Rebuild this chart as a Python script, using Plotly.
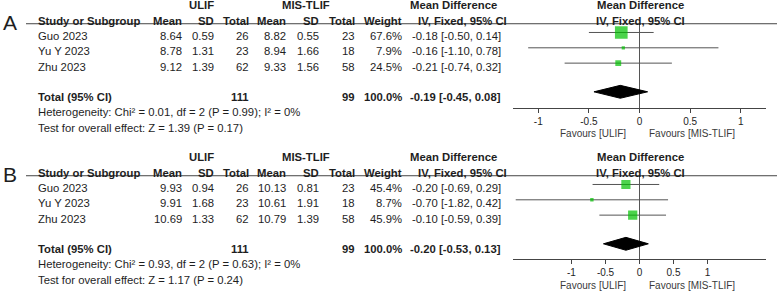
import plotly.graph_objects as go

W, H = 777, 292

studies = ["Guo 2023", "Yu Y 2023", "Zhu 2023"]

# ---- Panel A ----
a_ulif_mean = [8.64, 8.78, 9.12]
a_ulif_sd = [0.59, 1.31, 1.39]
a_ulif_n = [26, 23, 62]
a_mis_mean = [8.82, 8.94, 9.33]
a_mis_sd = [0.55, 1.66, 1.56]
a_mis_n = [23, 18, 58]
a_weight = [67.6, 7.9, 24.5]
a_md = [-0.18, -0.16, -0.21]
a_lo = [-0.50, -1.10, -0.74]
a_hi = [0.14, 0.78, 0.32]
a_tot_n = [111, 99]
a_tot_md = [-0.19, -0.45, 0.08]
a_het = "Heterogeneity: Chi² = 0.01, df = 2 (P = 0.99); I² = 0%"
a_test = "Test for overall effect: Z = 1.39 (P = 0.17)"

# ---- Panel B ----
b_ulif_mean = [9.93, 9.91, 10.69]
b_ulif_sd = [0.94, 1.68, 1.33]
b_ulif_n = [26, 23, 62]
b_mis_mean = [10.13, 10.61, 10.79]
b_mis_sd = [0.81, 1.91, 1.39]
b_mis_n = [23, 18, 58]
b_weight = [45.4, 8.7, 45.9]
b_md = [-0.20, -0.70, -0.10]
b_lo = [-0.69, -1.82, -0.59]
b_hi = [0.29, 0.42, 0.39]
b_tot_n = [111, 99]
b_tot_md = [-0.20, -0.53, 0.13]
b_het = "Heterogeneity: Chi² = 0.93, df = 2 (P = 0.63); I² = 0%"
b_test = "Test for overall effect: Z = 1.17 (P = 0.24)"

tick_vals = [-1, -0.5, 0, 0.5, 1]
tick_text = ["-1", "-0.5", "0", "0.5", "1"]

panels = [
    dict(letter="A", top=0, xrange=1.25, r_axis=4.72,
         um=a_ulif_mean, us=a_ulif_sd, un=a_ulif_n, mm=a_mis_mean, ms=a_mis_sd, mn=a_mis_n,
         w=a_weight, md=a_md, lo=a_lo, hi=a_hi, tn=a_tot_n, tmd=a_tot_md, het=a_het, test=a_test),
    dict(letter="B", top=152, xrange=1.86, r_axis=4.60,
         um=b_ulif_mean, us=b_ulif_sd, un=b_ulif_n, mm=b_mis_mean, ms=b_mis_sd, mn=b_mis_n,
         w=b_weight, md=b_md, lo=b_lo, hi=b_hi, tn=b_tot_n, tmd=b_tot_md, het=b_het, test=b_test),
]

FONT = "Arial, 'Liberation Sans', sans-serif"
TXT = "#1e1e1e"
GREEN = "#00c000"
FS = 11.3
ROW = 15.33
FIRST = 36
PANEL_H = 140
R_LINE = -0.8
MOFF = -0.23
FOREST_L, FOREST_R = 513, 766

fig = go.Figure()
layout = dict(width=W, height=H, margin=dict(l=0, r=0, t=0, b=0),
              paper_bgcolor="white", plot_bgcolor="rgba(0,0,0,0)",
              showlegend=False, font=dict(family=FONT, size=FS, color=TXT))
annotations = []
shapes = []

layout["xaxis"] = dict(domain=[0, 1], range=[0, W], visible=False, fixedrange=True)


def ann(text, xpx, r, yref, anchor="left", bold=False, size=FS):
    annotations.append(dict(
        text=f"<b>{text}</b>" if bold else text, x=xpx / W, xref="paper", y=r, yref=yref,
        xanchor=anchor, yanchor="middle", showarrow=False,
        font=dict(size=size, color=TXT, family=FONT)))


for k, p in enumerate(panels):
    t = p["top"]
    ty = 2 * k + 1   # table y axis
    fy = 2 * k + 2   # forest y axis
    fx = k + 2       # forest x axis
    tyn = "yaxis" if ty == 1 else f"yaxis{ty}"
    tyref = "y" if ty == 1 else f"y{ty}"
    fyref = f"y{fy}"
    fxref = f"x{fx}"

    layout[tyn] = dict(domain=[1 - (t + PANEL_H) / H, 1 - t / H],
                       range=[(PANEL_H - FIRST) / ROW, -FIRST / ROW],
                       visible=False, anchor="x", fixedrange=True)
    f_top = t + FIRST + ROW * R_LINE
    f_bot = t + FIRST + ROW * p["r_axis"]
    layout[f"yaxis{fy}"] = dict(domain=[1 - f_bot / H, 1 - f_top / H],
                                range=[p["r_axis"], R_LINE], visible=False,
                                anchor=fxref, fixedrange=True)
    layout[f"xaxis{fx}"] = dict(domain=[FOREST_L / W, FOREST_R / W],
                                range=[-p["xrange"], p["xrange"]], anchor=fyref,
                                showgrid=False, zeroline=True, zerolinecolor="#555555",
                                zerolinewidth=1, showline=True, linecolor="#444444",
                                linewidth=1, ticks="outside", ticklen=4,
                                tickcolor="#444444", tickvals=tick_vals, ticktext=tick_text,
                                tickfont=dict(size=10, color=TXT, family=FONT),
                                fixedrange=True)

    # dummy trace so the table subplot exists
    fig.add_trace(go.Scatter(x=[None], y=[None], xaxis="x", yaxis=tyref,
                             hoverinfo="skip", mode="markers"))

    rows = list(range(len(studies)))
    # CI lines
    for i in rows:
        fig.add_trace(go.Scatter(x=[p["lo"][i], p["hi"][i]], y=[i + MOFF, i + MOFF],
                                 mode="lines", line=dict(color="#555555", width=1),
                                 xaxis=fxref, yaxis=fyref, hoverinfo="skip"))
    # squares
    fig.add_trace(go.Scatter(x=p["md"], y=[i + MOFF for i in rows], mode="markers",
                             marker=dict(symbol="square", color=GREEN,
                                         size=[2 + 0.158 * w for w in p["w"]],
                                         line=dict(width=0)),
                             xaxis=fxref, yaxis=fyref, hoverinfo="skip"))
    # diamond
    est, lo, hi = p["tmd"]
    rd, hh = 3.64, 0.42
    fig.add_trace(go.Scatter(x=[lo, est, hi, est, lo], y=[rd, rd - hh, rd, rd + hh, rd],
                             mode="lines", fill="toself", fillcolor="black",
                             line=dict(color="black", width=1),
                             xaxis=fxref, yaxis=fyref, hoverinfo="skip"))

    # header line
    shapes.append(dict(type="line", xref="paper", x0=26 / W, x1=1,
                       yref=f"{fyref} domain", y0=1, y1=1,
                       line=dict(color="#444444", width=1)))

    # panel letter
    ann(p["letter"], 9.5, -0.9, tyref, anchor="center", size=21)

    # headers
    ann("ULIF", 201, -2.04, tyref, "center", True)
    ann("MIS-TLIF", 306, -2.04, tyref, "center", True)
    ann("Mean Difference", 453.5, -2.04, tyref, "center", True)
    ann("Mean Difference", 640, -2.04, tyref, "center", True)
    ann("Study or Subgroup", 36, -1.0, tyref, "left", True)
    for label, xr in zip(["Mean", "SD", "Total", "Mean", "SD", "Total", "Weight"],
                         [184, 216, 251, 288, 321, 357, 404]):
        ann(label, xr, -1.0, tyref, "right", True)
    ann("IV, Fixed, 95% CI", 462, -1.0, tyref, "center", True)
    ann("IV, Fixed, 95% CI", 640, -1.0, tyref, "center", True)

    # study rows
    for i, s in enumerate(studies):
        ann(s, 36, i, tyref, "left")
        vals = [f"{p['um'][i]:.2f}", f"{p['us'][i]:.2f}", f"{p['un'][i]}",
                f"{p['mm'][i]:.2f}", f"{p['ms'][i]:.2f}", f"{p['mn'][i]}",
                f"{p['w'][i]:.1f}%",
                f"{p['md'][i]:.2f} [{p['lo'][i]:.2f}, {p['hi'][i]:.2f}]"]
        for v, xr in zip(vals, [184, 216, 251, 288, 321, 357, 404, 503]):
            ann(v, xr, i, tyref, "right")

    # total row
    ann("Total (95% CI)", 36, 3.95, tyref, "left", True)
    ann(f"{p['tn'][0]}", 251, 3.95, tyref, "right", True)
    ann(f"{p['tn'][1]}", 357, 3.95, tyref, "right", True)
    ann(f"{sum(p['w']):.1f}%", 404, 3.95, tyref, "right", True)
    ann(f"{est:.2f} [{lo:.2f}, {hi:.2f}]", 503, 3.95, tyref, "right", True)
    ann(p["het"], 36, 4.97, tyref, "left")
    ann(p["test"], 36, 6.0, tyref, "left")

    # favours labels
    annotations.append(dict(text="Favours [ULIF]", x=0, xref=fxref, y=6.38, yref=tyref,
                            xanchor="right", yanchor="middle", xshift=-12, showarrow=False,
                            font=dict(size=10, color="#3a3a3a", family=FONT)))
    annotations.append(dict(text="Favours [MIS-TLIF]", x=0, xref=fxref, y=6.38, yref=tyref,
                            xanchor="left", yanchor="middle", xshift=7, showarrow=False,
                            font=dict(size=10, color="#3a3a3a", family=FONT)))

layout["annotations"] = annotations
layout["shapes"] = shapes
fig.update_layout(**layout)
fig.write_html("out.html", config={"displayModeBar": False},
               post_script="document.body.style.margin='0';document.body.style.overflow='hidden';")
